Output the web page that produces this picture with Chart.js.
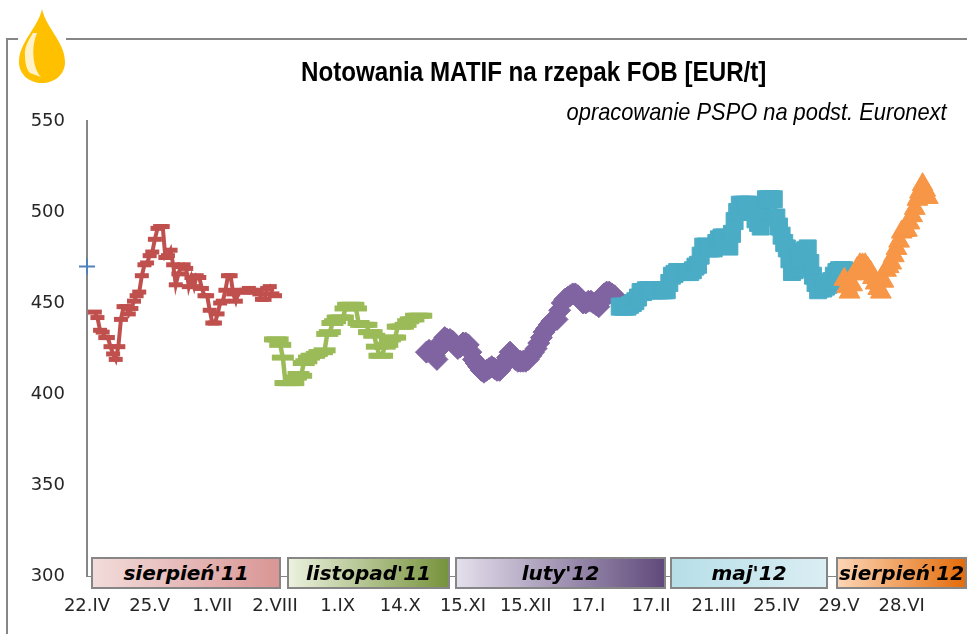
<!DOCTYPE html>
<html lang="pl">
<head>
<meta charset="utf-8">
<title>Notowania MATIF</title>
<script src="https://cdn.jsdelivr.net/npm/chart.js@4"></script>
<style>
    html, body { margin: 0; padding: 0; background: #fff; overflow: hidden; }
    #wrap { position: relative; width: 967px; height: 634px; }
    #c { position: absolute; left: 0; top: 0; filter: blur(0.4px); }
    .frame { position: absolute; background: #868686; }
    #drop { position: absolute; left: 17px; top: 8px; }
    .title { position: absolute; white-space: nowrap; color: #000; font-family: "Liberation Sans", sans-serif; }
    #t1 { left: 301px; top: 56px; font-size: 28px; font-weight: bold; transform: scaleX(0.863); transform-origin: left center; }
    #t2 { right: 20px; top: 98px; font-size: 24px; font-style: italic; transform: scaleX(0.91); transform-origin: right center; }
    .box {
        position: absolute; box-sizing: border-box; border: 2px solid #868686;
        text-align: center; white-space: nowrap; color: #000;
        font: italic bold 20px "DejaVu Sans", sans-serif; line-height: 28px;
    }
</style>
</head>
<body>
<div id="wrap">
    <canvas id="c" width="967" height="634"></canvas>
    <div class="frame" style="left:6px;top:38px;width:2px;height:596px"></div>
    <div class="frame" style="left:6px;top:38px;width:961px;height:2px"></div>
    <svg id="drop" width="52" height="78" viewBox="0 0 52 78">
        <rect x="1" y="20" width="48" height="30" fill="#fff"/>
        <path d="M25 1 C29 20 48 34 48 54 C48 67 37 75 25 75 C13 75 2 67 2 54 C2 34 21 20 25 1 Z" fill="#ffc000"/>
        <path d="M16 25 C11 33 7 40 8 48 C8 56 10 62 13 65 L24 69 C17 62 13 42 20 25 Z" fill="#fff2c8"/>
    </svg>
    <div class="title" id="t1">Notowania MATIF na rzepak FOB [EUR/t]</div>
    <div class="title" id="t2">opracowanie PSPO na podst. Euronext</div>
    <div id="boxes"></div>
</div>
<script>
// etykiety osi
var tickLabels = ['22.IV', '25.V', '1.VII', '2.VIII', '1.IX', '14.X', '15.XI', '15.XII', '17.I', '17.II', '21.III', '25.IV', '29.V', '28.VI'];
var yTicks = [300, 350, 400, 450, 500, 550];
var perTick = 24; // ile punktow na jedna etykiete
var xMax = 337;   // koniec osi x

// notowania
var startValue = [470];
var sierpien11 = [445, 442, 435, 434, 431, 431, 426, 422, 419, 426, 441, 448, 448, 444, 447, 451, 454, 456, 465, 471, 472, 476, 478, 485, 491, 492, 492, 475, 476, 479, 471, 460, 466, 470, 471, 469, 459, 464, 459, 465, 464, 458, 454, 454, 446, 439, 439, 444, 450, 451, 457, 465, 465, 455, 451, 456, 457, 456, 457, 458, 456, 456, 457, 455, 452, 452, 458, 459, 455, 454];
var listopad11 = [430, 430, 427, 420, 406, 406, 406, 406, 409, 411, 410, 417, 418, 420, 421, 421, 422, 423, 423, 424, 433, 434, 439, 440, 442, 442, 442, 447, 449, 449, 449, 447, 439, 438, 438, 438, 434, 434, 432, 426, 421, 421, 426, 427, 430, 431, 431, 437, 437, 437, 438, 440, 441, 441, 443, 443, 443];
var luty12 = [423, 424, 423, 421, 419, 425, 429, 431, 430, 430, 429, 427, 425, 426, 428, 428, 427, 423, 419, 417, 415, 413, 412, 413, 414, 415, 414, 413, 413, 415, 417, 420, 423, 421, 419, 418, 418, 418, 418, 419, 421, 423, 425, 428, 431, 434, 436, 438, 440, 441, 441, 446, 450, 452, 453, 454, 455, 455, 454, 452, 450, 450, 451, 451, 450, 449, 448, 451, 455, 456, 456, 455, 454];
var maj12 = [448, 448, 448, 448, 449, 450, 451, 453, 456, 456, 457, 457, 457, 457, 457, 457, 457, 457, 457, 461, 465, 466, 467, 467, 467, 467, 467, 467, 468, 470, 471, 476, 481, 481, 480, 480, 480, 483, 485, 486, 486, 483, 481, 488, 495, 500, 504, 504, 504, 504, 504, 500, 496, 494, 492, 500, 507, 507, 507, 507, 497, 492, 487, 483, 480, 474, 467, 468, 469, 474, 478, 479, 480, 472, 465, 461, 457, 458, 458, 459, 460, 462, 465, 467, 468, 468, 468];
var sierpien12 = [463, 459, 456, 460, 466, 469, 471, 471, 471, 469, 467, 464, 461, 458, 456, 462, 468, 470, 472, 476, 480, 484, 489, 490, 490, 494, 498, 502, 507, 511, 515, 512, 508];

// numer punktu od ktorego zaczyna sie kazda seria
var startAt = { start: 0, sierpien11: 3, listopad11: 72, luty12: 130, maj12: 204, sierpien12: 290 };

// paski z nazwami kontraktow pod wykresem
var boxes = [
    { name: "sierpień'11", left: 91, right: 281, from: '#f2dcdb', to: '#d99694' },
    { name: "listopad'11", left: 287, right: 450, from: '#ebf1de', to: '#77933c' },
    { name: "luty'12", left: 455, right: 666, from: '#e4dfec', to: '#604a7b' },
    { name: "maj'12", left: 670, right: 828, from: '#b7dee8', to: '#daeef3' },
    { name: "sierpień'12", left: 836, right: 967, from: '#fcd5b5', to: '#e46c0a' }
];

function toPoints(values, first) {
    var points = [];
    for (var i = 0; i < values.length; i++) {
        points.push({ x: first + i, y: values[i] });
    }
    return points;
}

function makeSeries(values, first, color, style, radius, pointWidth, lineWidth, order) {
    return {
        data: toPoints(values, first),
        borderColor: color,
        backgroundColor: color,
        borderWidth: lineWidth,
        pointStyle: style,
        pointRadius: radius,
        pointBorderWidth: pointWidth,
        pointBorderColor: color,
        pointBackgroundColor: color,
        tension: 0,
        clip: false,
        order: order
    };
}

var boxesDiv = document.getElementById('boxes');
for (var b = 0; b < boxes.length; b++) {
    var el = document.createElement('div');
    el.className = 'box';
    el.textContent = boxes[b].name;
    el.style.left = boxes[b].left + 'px';
    el.style.width = (boxes[b].right - boxes[b].left) + 'px';
    el.style.top = '557px';
    el.style.height = '32px';
    el.style.background = 'linear-gradient(to right, ' + boxes[b].from + ', ' + boxes[b].to + ')';
    boxesDiv.appendChild(el);
}

var ctx = document.getElementById('c').getContext('2d');
var chart = new Chart(ctx, {
    type: 'line',
    data: {
        datasets: [
            makeSeries(startValue, startAt.start, '#4f81bd', 'cross', 8, 2, 2, 1),
            makeSeries(sierpien11, startAt.sierpien11, '#c0504d', 'line', 7, 5, 4, 6),
            makeSeries(listopad11, startAt.listopad11, '#9bbb59', 'line', 11, 6, 4.5, 5),
            makeSeries(luty12, startAt.luty12, '#8064a2', 'rectRot', 11, 1, 4, 4),
            makeSeries(maj12, startAt.maj12, '#4bacc6', 'rect', 12, 1, 4, 3),
            makeSeries(sierpien12, startAt.sierpien12, '#f79646', 'triangle', 12, 1, 4, 2)
        ]
    },
    options: {
        responsive: false,
        animation: false,
        layout: { autoPadding: false, padding: { top: 121, left: 0, right: 0, bottom: 0 } },
        plugins: { legend: { display: false }, tooltip: { enabled: false } },
        scales: {
            x: {
                type: 'linear',
                min: 0,
                max: xMax,
                grid: { display: false },
                border: { color: '#868686', width: 1 },
                afterFit: function (scale) { scale.height = 58; },
                ticks: {
                    stepSize: perTick,
                    autoSkip: false,
                    maxRotation: 0,
                    padding: 12,
                    color: '#262626',
                    font: { family: 'DejaVu Sans', size: 18 },
                    callback: function (value) { return tickLabels[value / perTick]; }
                }
            },
            y: {
                min: yTicks[0],
                max: yTicks[yTicks.length - 1],
                grid: { display: false, drawTicks: false },
                border: { color: '#868686', width: 2 },
                afterFit: function (scale) { scale.width = 87; },
                ticks: {
                    stepSize: 50,
                    padding: 22,
                    color: '#262626',
                    font: { family: 'DejaVu Sans', size: 18 }
                }
            }
        }
    }
});
</script>
</body>
</html>
